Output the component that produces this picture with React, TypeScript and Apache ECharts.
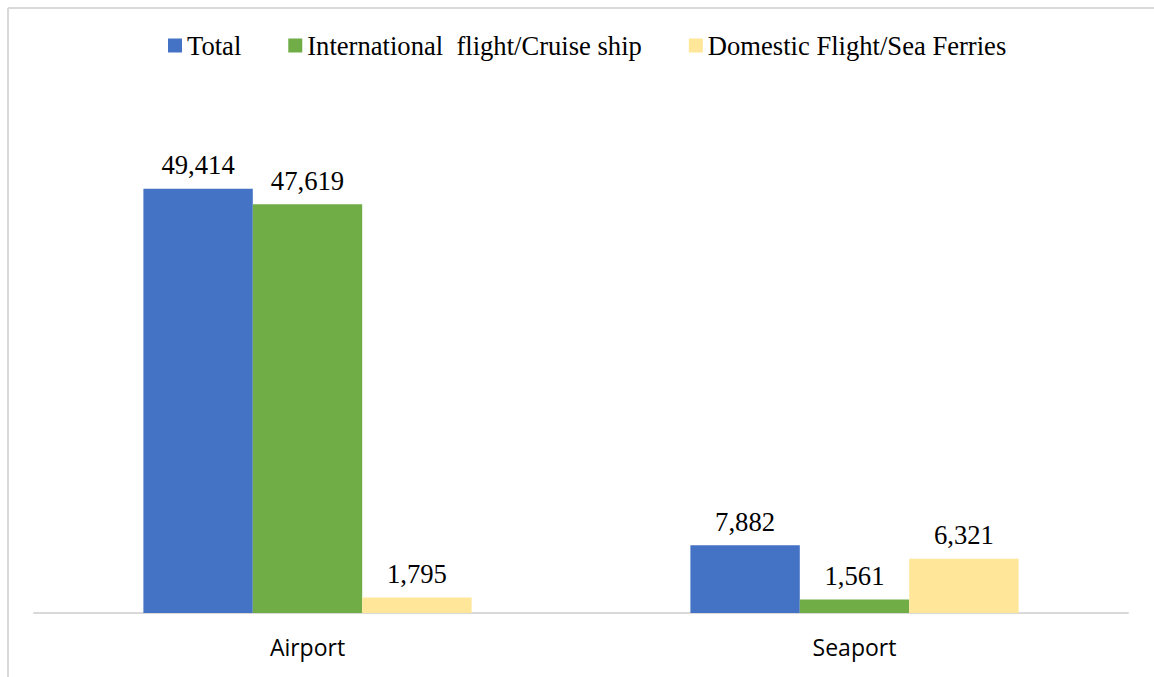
import React, { useEffect, useRef } from "react";
import * as echarts from "echarts";

const categories = ["Airport", "Seaport"];
const seriesNames = ["Total", "International  flight/Cruise ship", "Domestic Flight/Sea Ferries"];
const totalValues = [49414, 7882];
const internationalValues = [47619, 1561];
const domesticValues = [1795, 6321];
const colors = ["#4472C4", "#70AD47", "#FFE699"];

export default function App() {
  const ref = useRef<HTMLDivElement>(null);
  useEffect(() => {
    if (!ref.current) return;
    const chart = echarts.init(ref.current, undefined, { renderer: "svg" });
    const dataSets = [totalValues, internationalValues, domesticValues];
    const labelStyle = {
      show: true,
      position: "top" as const,
      distance: 10,
      fontFamily: "'Liberation Serif', 'Times New Roman', serif",
      fontSize: 26.7,
      color: "#000",
      formatter: (p: any) => Number(p.value).toLocaleString("en-US"),
    };
    chart.setOption({
      animation: false,
      backgroundColor: "#fff",
      color: colors,
      legend: {
        top: 27,
        left: 163,
        itemWidth: 14,
        itemHeight: 14,
        itemGap: 47,
        icon: "rect",
        textStyle: {
          fontFamily: "'Liberation Serif', 'Times New Roman', serif",
          fontSize: 26.6,
          color: "#000",
        },
        data: seriesNames,
      },
      grid: { left: 34, right: 26, top: 98, bottom: 64, containLabel: false },
      xAxis: {
        type: "category",
        data: categories,
        axisLine: { lineStyle: { color: "#d9d9d9", width: 2 } },
        axisTick: { show: false },
        axisLabel: {
          margin: 22,
          fontFamily: "'Open Sans', sans-serif",
          fontSize: 23,
          color: "#000",
        },
      },
      yAxis: {
        type: "value",
        min: 0,
        max: 60000,
        show: false,
        splitLine: { show: false },
      },
      graphic: [
        { type: "line", shape: { x1: 8, y1: 8, x2: 1154, y2: 8 }, style: { stroke: "#d9d9d9", lineWidth: 2 } },
        { type: "line", shape: { x1: 8, y1: 8, x2: 8, y2: 677 }, style: { stroke: "#d9d9d9", lineWidth: 2 } },
      ],
      series: seriesNames.map((name, i) => ({
        name,
        type: "bar",
        data: dataSets[i],
        barGap: "0%",
        barCategoryGap: "40%",
        itemStyle: { color: colors[i] },
        label: labelStyle,
      })),
    });
    return () => chart.dispose();
  }, []);
  return (
    <div
      ref={ref}
      style={{ position: "fixed", left: 0, top: 0, width: 1154, height: 677 }}
    />
  );
}
